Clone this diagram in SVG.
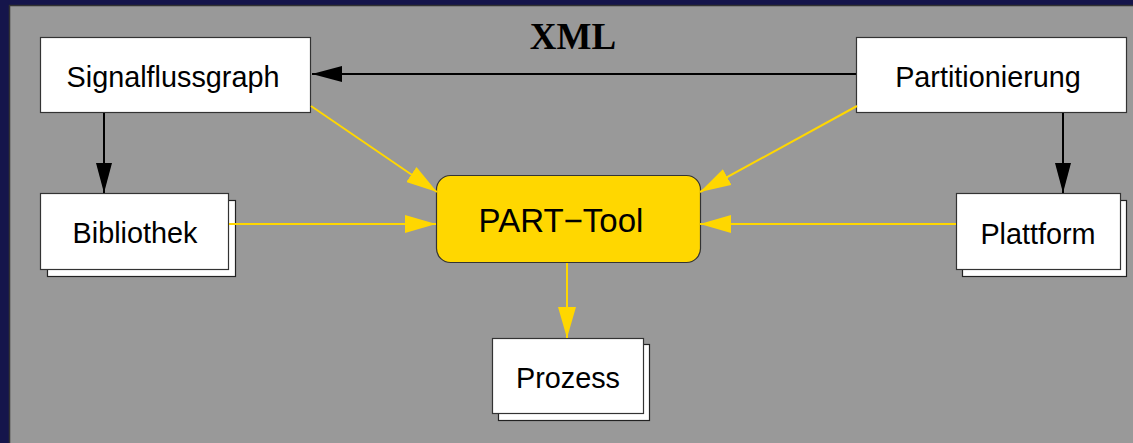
<svg xmlns="http://www.w3.org/2000/svg" width="1133" height="443" viewBox="0 0 1133 443">
  <style>
    .box { fill: #ffffff; stroke: #333333; stroke-width: 1.2; }
    .shadow { fill: #ffffff; stroke: #222222; stroke-width: 1.2; }
    .tool { fill: #ffd700; stroke: #333333; stroke-width: 1.2; }
    .lbl { font-family: "Liberation Sans", Arial, sans-serif; font-size: 28.8px; fill: #000000; text-anchor: middle; }
    .big { font-size: 33px; }
    .title { font-family: "Liberation Serif", "Times New Roman", serif; font-weight: bold; font-size: 37px; fill: #000000; text-anchor: middle; }
    .blk { stroke: #000000; stroke-width: 2; fill: none; }
    .yel { stroke: #ffd700; stroke-width: 2; fill: none; }
  </style>
  <defs>
    <marker id="headBlack" markerUnits="userSpaceOnUse" markerWidth="30" markerHeight="16" refX="30" refY="8" orient="auto">
      <path d="M0,0 L30,8 L0,16 z" fill="#000000"/>
    </marker>
    <marker id="headYellow" markerUnits="userSpaceOnUse" markerWidth="31" markerHeight="18" refX="31" refY="9" orient="auto">
      <path d="M0,0 L31,9 L0,18 z" fill="#ffd700"/>
    </marker>
  </defs>

  <!-- frame and canvas -->
  <rect x="0" y="0" width="1133" height="443" fill="#15154b"/>
  <rect x="9.5" y="5.5" width="1140" height="450" fill="#999999" stroke="#333333" stroke-width="1.5"/>

  <text class="title" x="573" y="49">XML</text>

  <g id="signalflussgraph">
    <rect class="box" x="40.5" y="37.5" width="270" height="75"/>
    <text class="lbl" x="173" y="87">Signalflussgraph</text>
  </g>

  <g id="partitionierung">
    <rect class="box" x="856.5" y="37.5" width="270" height="75"/>
    <text class="lbl" x="988" y="87">Partitionierung</text>
  </g>

  <g id="bibliothek">
    <rect class="shadow" x="47.5" y="200.5" width="188" height="76"/>
    <rect class="box" x="40.5" y="193.5" width="188" height="76"/>
    <text class="lbl" x="135" y="243">Bibliothek</text>
  </g>

  <g id="plattform">
    <rect class="shadow" x="962.5" y="200.5" width="164" height="76"/>
    <rect class="box" x="956.5" y="193.5" width="164" height="76"/>
    <text class="lbl" x="1038" y="244">Plattform</text>
  </g>

  <g id="part-tool">
    <rect class="tool" x="436.5" y="175.5" width="264" height="87" rx="14" ry="14"/>
    <text class="lbl big" x="561" y="232">PART−Tool</text>
  </g>

  <g id="prozess">
    <rect class="shadow" x="498.5" y="344.5" width="151" height="76"/>
    <rect class="box" x="492.5" y="338.5" width="151" height="75"/>
    <text class="lbl" x="568" y="388">Prozess</text>
  </g>

  <!-- connectors, drawn over the boxes -->
  <g id="connectors">
    <line class="blk" x1="856" y1="74" x2="312" y2="74" marker-end="url(#headBlack)"/>
    <line class="blk" x1="104" y1="113" x2="104" y2="193" marker-end="url(#headBlack)"/>
    <line class="blk" x1="1063" y1="113" x2="1063" y2="193" marker-end="url(#headBlack)"/>
    <line class="yel" x1="311" y1="106" x2="437" y2="192" marker-end="url(#headYellow)"/>
    <line class="yel" x1="857" y1="106" x2="700" y2="192" marker-end="url(#headYellow)"/>
    <line class="yel" x1="229" y1="224" x2="436" y2="224" marker-end="url(#headYellow)"/>
    <line class="yel" x1="956" y1="224" x2="700" y2="224" marker-end="url(#headYellow)"/>
    <line class="yel" x1="567" y1="263" x2="567" y2="338" marker-end="url(#headYellow)"/>
  </g>
</svg>
